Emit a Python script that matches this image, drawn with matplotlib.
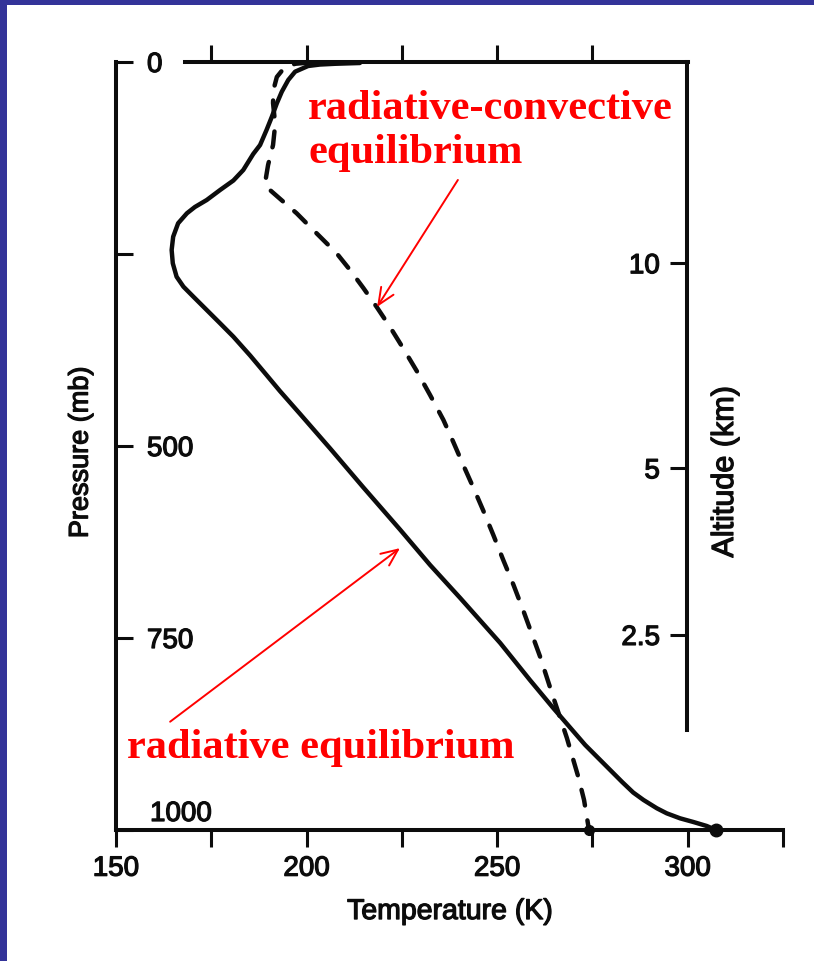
import matplotlib
matplotlib.use("Agg")
import matplotlib.pyplot as plt
from matplotlib.patches import Rectangle
from matplotlib import patheffects as pe

# Radiative equilibrium profile: temperature (K) against pressure (mb)
rad_T = [214.0, 207.5, 203.5, 200.4, 197.0, 195.2, 193.5, 192.2, 190.9, 189.5,
         187.8, 186.0, 183.4, 180.8, 177.3, 173.8, 170.7, 168.6, 166.3, 165.0,
         164.6, 164.9, 165.9, 167.7, 170.3, 173.8, 177.3, 180.8, 185.2, 189.5,
         193.0, 198.3, 206.2, 214.8, 224.5, 232.4, 240.3, 250.8, 258.6, 264.7,
         273.1, 282.8, 285.7, 288.4, 291.9, 294.5, 298.0, 301.5, 305.0, 307.4]
rad_p = [1.3, 2.3, 3.3, 5.2, 12.6, 23.4, 38.7, 53.8, 71.2, 88.5,
         108.1, 119.8, 140.6, 154.3, 166.7, 179.7, 188.8, 197.0, 210.0, 227.5,
         244.8, 262.1, 279.6, 292.6, 305.6, 322.9, 340.2, 357.7, 382.2, 407.6,
         428.4, 458.3, 503.3, 553.4, 608.7, 654.9, 697.9, 756.5, 804.7, 841.1,
         889.3, 937.5, 951.2, 960.9, 971.7, 978.3, 984.8, 989.6, 994.8, 1000.0]

# Radiative-convective equilibrium profile
conv_T = [200.9, 197.0, 194.1, 192.2, 191.3, 191.2, 191.6, 191.7, 191.2, 189.9,
          189.1, 190.4, 193.9, 197.4, 200.9, 204.4, 207.9, 211.4, 214.9, 218.4,
          221.9, 225.3, 228.9, 232.4, 235.9, 238.5, 241.1, 243.8, 246.4, 249.0,
          251.6, 254.3, 256.9, 261.3, 264.7, 268.3, 271.3, 272.8, 274.1]
conv_p = [0.7, 2.3, 7.8, 19.5, 36.5, 53.4, 72.9, 84.6, 108.1, 134.1,
          157.9, 166.7, 181.9, 197.0, 214.5, 231.8, 249.1, 270.8, 294.3, 319.0,
          345.1, 372.4, 402.3, 433.6, 466.1, 494.8, 524.7, 554.7, 584.6, 615.9,
          648.4, 681.0, 714.8, 774.7, 826.8, 880.2, 931.0, 960.9, 1000.0]

# Axis ticks
temp_ticks = [150, 175, 200, 225, 250, 275, 300, 325]
temp_labels = ["150", "", "200", "", "250", "", "300", ""]
top_ticks = [175, 200, 225, 250, 275]
pressure_ticks = [0, 250, 500, 750, 1000]
pressure_labels = ["0", "", "500", "750", "1000"]
altitude_p = [262, 529, 746]
altitude_labels = ["10", "5", "2.5"]

INK = "#0c0c0c"
SANS = "Liberation Sans"
SERIF = "Liberation Serif"
LW = 2.9
HEAVY = [pe.withStroke(linewidth=0.9, foreground=INK)]

fig = plt.figure(figsize=(8.14, 9.61), dpi=100)
fig.patch.set_facecolor("#333399")
fig.add_artist(Rectangle((7 / 814, 0), 1, 956 / 961, transform=fig.transFigure,
                         facecolor="white", edgecolor="none", zorder=-5))

W, H = 814, 961
ax = fig.add_axes([116 / W, (H - 830) / H, 667 / W, 768 / H])
ax.set_facecolor("none")
ax.set_xlim(150, 325)
ax.set_ylim(1000, 0)

ax.spines["right"].set_visible(False)
ax.spines["top"].set_bounds(168, 300)
for s in ("left", "bottom", "top"):
    ax.spines[s].set_linewidth(LW)
    ax.spines[s].set_color(INK)
    ax.spines[s].set_capstyle("projecting")

# bottom temperature axis
ax.set_xticks(temp_ticks, temp_labels, fontfamily=SANS, path_effects=HEAVY)
ax.tick_params(axis="x", direction="out", length=12.5, width=2.2, pad=6,
               labelsize=20, color=INK, labelcolor=INK)

# top ticks without labels
top = ax.secondary_xaxis("top")
top.set_xticks(top_ticks, [""] * len(top_ticks))
top.tick_params(direction="out", length=12.5, width=2.2, color=INK)
top.spines["top"].set_visible(False)

# left pressure axis, labels inside
ax.set_yticks(pressure_ticks, pressure_labels[:-1] + [""], ha="left",
              fontfamily=SANS, path_effects=HEAVY)
ax.tick_params(axis="y", direction="in", length=12, width=2.2, pad=-22.3,
               labelsize=20, color=INK, labelcolor=INK)
ax.annotate(pressure_labels[-1], xy=(0, pressure_ticks[-1]),
            xycoords=ax.get_yaxis_transform(), xytext=(34, 16),
            textcoords="offset pixels", ha="left", va="center",
            fontsize=20, fontfamily=SANS, color=INK, path_effects=HEAVY)

# right altitude axis standing at 300 K
alt = fig.add_axes([116 / W, (H - 830) / H, 571 / W, 768 / H])
alt.patch.set_visible(False)
alt.set_ylim(1000, 0)
alt.set_xticks([])
for s in ("left", "bottom", "top"):
    alt.spines[s].set_visible(False)
alt.spines["right"].set_bounds(0, 870)
alt.spines["right"].set_linewidth(LW)
alt.spines["right"].set_color(INK)
alt.yaxis.tick_right()
alt.set_yticks(altitude_p, altitude_labels, ha="right", fontfamily=SANS,
               path_effects=HEAVY)
alt.tick_params(axis="y", direction="in", length=12, width=2.2, pad=-19.5,
                labelsize=20, color=INK, labelcolor=INK)

# axis titles
ax.set_xlabel("Temperature (K)", fontsize=20.5, fontfamily=SANS, color=INK,
              va="center", path_effects=HEAVY)
ax.xaxis.set_label_coords(0.5007, -0.1068)
ax.set_ylabel("Pressure (mb)", fontsize=19.5, fontfamily=SANS, color=INK,
              va="center", path_effects=HEAVY)
ax.yaxis.set_label_coords(-0.053, 0.492)
alt.yaxis.set_label_position("right")
alt.set_ylabel("Altitude (km)", fontsize=22, fontfamily=SANS, color=INK,
               rotation=90, va="center", path_effects=HEAVY)
alt.yaxis.set_label_coords(1.0665, 0.466)

# profiles
ax.plot(rad_T, rad_p, color=INK, lw=3.2, solid_joinstyle="round",
        solid_capstyle="round", clip_on=False, zorder=3)
ax.plot(conv_T, conv_p, color=INK, lw=3.2, linestyle=(0, (3.6, 3.4)),
        dash_capstyle="round", dash_joinstyle="round", clip_on=False, zorder=3)
ax.plot(rad_T[-1], rad_p[-1], "o", ms=9, color=INK, clip_on=False, zorder=4)
ax.plot(conv_T[-1], conv_p[-1], "o", ms=7, color=INK, clip_on=False, zorder=4)

# annotations
red_font = dict(fontfamily=SERIF, fontweight="bold", fontsize=30.5, color="red")
ax.text(200.4, 131.5, "radiative-convective\nequilibrium", ha="left",
        va="baseline", multialignment="left", zorder=5, **red_font)
ax.text(152.9, 906, "radiative equilibrium", ha="left", va="baseline",
        zorder=5, **red_font)

arrow = dict(arrowstyle="->,head_length=0.8,head_width=0.35", color="red",
             lw=1.4, mutation_scale=15, shrinkA=0, shrinkB=0)
ax.annotate("", xy=(218.5, 318.9), xytext=(239.7, 153.6), arrowprops=arrow,
            zorder=5)
ax.annotate("", xy=(224.5, 633.0), xytext=(164.2, 859.0), arrowprops=arrow,
            zorder=5)

fig.savefig("out.png", dpi=100, facecolor=fig.get_facecolor())
